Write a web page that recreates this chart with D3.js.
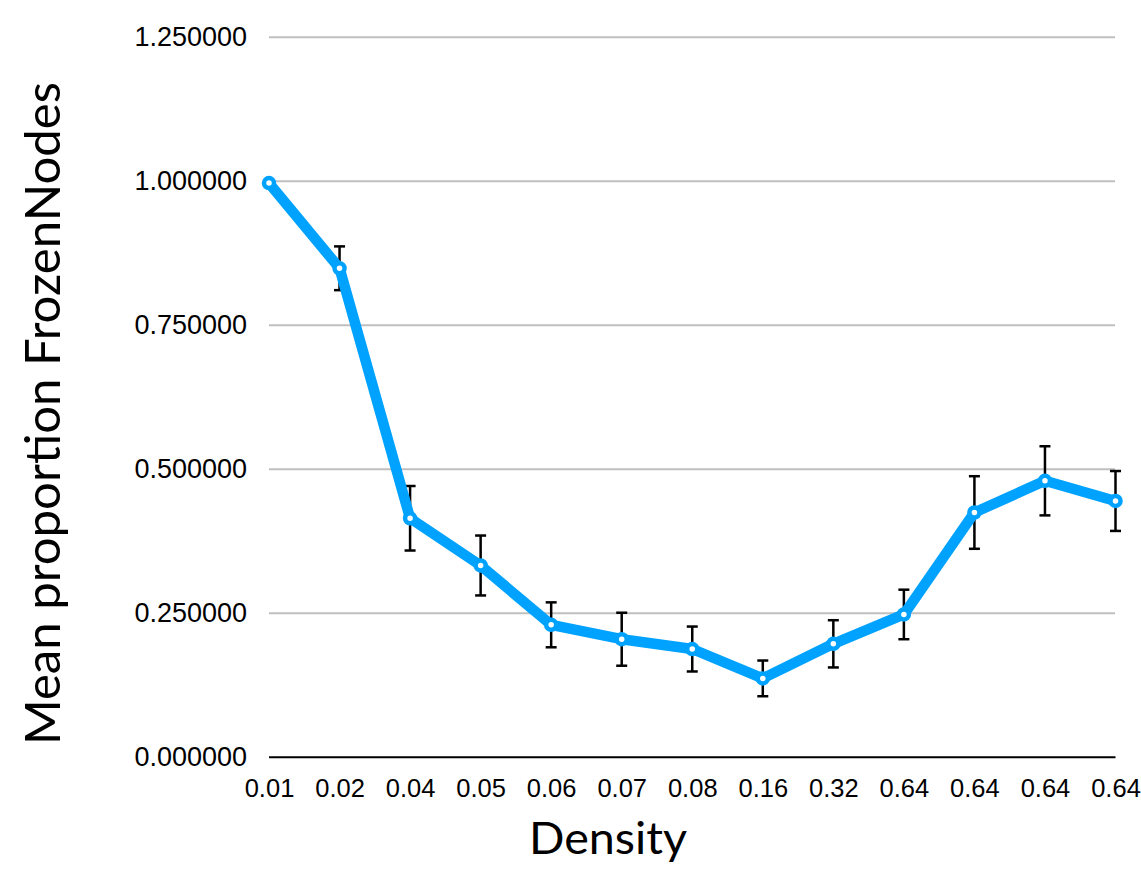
<!DOCTYPE html>
<html>
<head>
<meta charset="utf-8">
<script src="https://cdn.jsdelivr.net/npm/d3@7"></script>
<style>
  html, body { margin: 0; padding: 0; background: #fff; }
  svg { display: block; }
</style>
</head>
<body>
<svg id="chart" width="1141" height="873"></svg>
<script>
// Density levels along the x axis (several runs share 0.64)
const densities = ["0.01", "0.02", "0.04", "0.05", "0.06", "0.07", "0.08", "0.16", "0.32", "0.64", "0.64", "0.64", "0.64"];
// Mean proportion of frozen nodes at each density
const meanFrozen = [0.997, 0.849, 0.415, 0.333, 0.230, 0.205, 0.188, 0.137, 0.197, 0.248, 0.425, 0.480, 0.445];
// Symmetric error (± around the mean)
const errFrozen = [0.000, 0.038, 0.056, 0.052, 0.039, 0.046, 0.039, 0.031, 0.041, 0.043, 0.063, 0.060, 0.052];
// Y axis tick values
const yTicks = [0, 0.25, 0.5, 0.75, 1.0, 1.25];

const svg = d3.select("#chart");
const plotLeft = 269, plotRight = 1115.5, plotTop = 37.3, plotBottom = 757.3;
const lineColor = "#00a2ff";

const x = d3.scalePoint()
  .domain(d3.range(densities.length))
  .range([plotLeft, plotRight]);

const y = d3.scaleLinear()
  .domain([0, 1.25])
  .range([plotBottom, plotTop]);

// Horizontal gridlines
svg.append("g")
  .selectAll("line")
  .data(yTicks.filter(d => d > 0))
  .join("line")
  .attr("x1", plotLeft).attr("x2", plotRight - 0.5)
  .attr("y1", d => y(d)).attr("y2", d => y(d))
  .attr("stroke", "#bfbfbf")
  .attr("stroke-width", 2);

// Y axis labels
const yAxis = svg.append("g")
  .attr("transform", `translate(${plotLeft - 22},0)`)
  .call(d3.axisLeft(y).tickValues(yTicks).tickFormat(d3.format(".6f")).tickSize(0).tickPadding(0));
yAxis.select(".domain").remove();
yAxis.selectAll("text")
  .attr("font-family", "'Liberation Sans', Arial, sans-serif")
  .attr("font-size", 27)
  .attr("fill", "#000");

// X axis baseline and labels
const xAxis = svg.append("g")
  .attr("transform", `translate(0,${plotBottom})`)
  .call(d3.axisBottom(x).tickFormat(i => densities[i]).tickSize(0).tickPadding(22));
xAxis.select(".domain")
  .attr("stroke", "#000")
  .attr("stroke-width", 2)
  .attr("d", `M${plotLeft},0H${plotRight}`);
xAxis.selectAll("text")
  .attr("font-family", "'Liberation Sans', Arial, sans-serif")
  .attr("font-size", 25.5)
  .attr("fill", "#000");

// Error bars
const errG = svg.append("g")
  .attr("stroke", "#000")
  .attr("stroke-width", 2.5);
const idx = d3.range(densities.length).filter(i => errFrozen[i] > 0);
errG.selectAll("line.v")
  .data(idx)
  .join("line")
  .attr("class", "v")
  .attr("x1", i => x(i)).attr("x2", i => x(i))
  .attr("y1", i => y(meanFrozen[i] + errFrozen[i]))
  .attr("y2", i => y(meanFrozen[i] - errFrozen[i]));
errG.selectAll("line.t")
  .data(idx)
  .join("line")
  .attr("class", "t")
  .attr("x1", i => x(i) - 5.5).attr("x2", i => x(i) + 5.5)
  .attr("y1", i => y(meanFrozen[i] + errFrozen[i]))
  .attr("y2", i => y(meanFrozen[i] + errFrozen[i]));
errG.selectAll("line.b")
  .data(idx)
  .join("line")
  .attr("class", "b")
  .attr("x1", i => x(i) - 5.5).attr("x2", i => x(i) + 5.5)
  .attr("y1", i => y(meanFrozen[i] - errFrozen[i]))
  .attr("y2", i => y(meanFrozen[i] - errFrozen[i]));

// Mean line
const line = d3.line()
  .x((d, i) => x(i))
  .y(d => y(d));
svg.append("path")
  .datum(meanFrozen)
  .attr("d", line)
  .attr("fill", "none")
  .attr("stroke", lineColor)
  .attr("stroke-width", 10.5)
  .attr("stroke-linejoin", "round")
  .attr("stroke-linecap", "round");

// Point markers
svg.append("g")
  .selectAll("circle")
  .data(meanFrozen)
  .join("circle")
  .attr("cx", (d, i) => x(i))
  .attr("cy", d => y(d))
  .attr("r", 5)
  .attr("fill", "#fff")
  .attr("stroke", lineColor)
  .attr("stroke-width", 4.5);

// Axis titles
svg.append("text")
  .attr("transform", "translate(60,413.5) rotate(-90)")
  .attr("text-anchor", "middle")
  .attr("font-family", "Lato, 'Open Sans', sans-serif")
  .attr("font-size", 49)
  .attr("textLength", 663)
  .attr("lengthAdjust", "spacingAndGlyphs")
  .attr("fill", "#000")
  .text("Mean proportion FrozenNodes");

svg.append("text")
  .attr("x", 608)
  .attr("y", 854)
  .attr("text-anchor", "middle")
  .attr("font-family", "Lato, 'Open Sans', sans-serif")
  .attr("font-size", 45)
  .attr("textLength", 158)
  .attr("lengthAdjust", "spacingAndGlyphs")
  .attr("fill", "#000")
  .text("Density");
</script>
</body>
</html>
